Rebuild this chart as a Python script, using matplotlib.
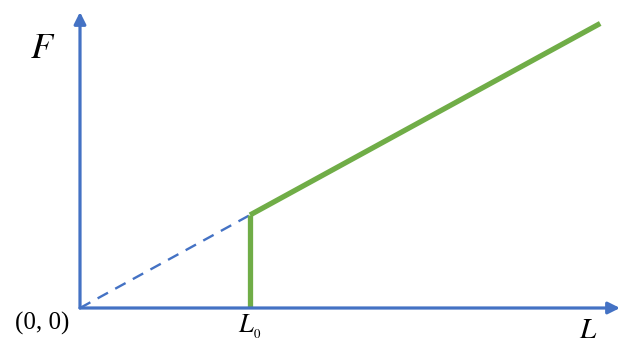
import matplotlib.pyplot as plt

plt.rcParams['mathtext.fontset'] = 'stix'

# Data: linear force F = k*L, starts at L0
L0 = 1.0
L_end = 3.06
k = 0.547
L_line = [L0, L_end]
F_line = [k * L0, k * L_end]
L_dash = [0, L0]
F_dash = [0, k * L0]

blue = '#4472C4'
green = '#70AD47'

fig = plt.figure(figsize=(6.21, 3.49), dpi=100)
ax = fig.add_axes([0, 0, 1, 1])
ax.set_xlim(-80 / 170, 541 / 170)
ax.set_ylim(-41 / 170, 308 / 170)
ax.axis('off')

# axes with arrows
arrow = dict(arrowstyle='-|>,head_length=0.7,head_width=0.35', color=blue, lw=2.3,
             shrinkA=0, shrinkB=0)
ax.annotate('', xy=(540 / 170, 0), xytext=(0, 0), arrowprops=arrow)
ax.annotate('', xy=(0, 296 / 170), xytext=(0, 0), arrowprops=arrow)

# dashed extrapolation and force curve
ax.plot(L_dash, F_dash, color=blue, lw=1.7, ls=(0, (5, 3.5)))
ax.plot(L_line, F_line, color=green, lw=3.8, solid_capstyle='butt')
ax.plot([L0, L0], [0, k * L0], color=green, lw=3.8, solid_capstyle='butt')

ax.text(-0.22, 1.53, '$F$', fontsize=26, ha='center', va='center')
ax.text(2.99, -0.13, '$L$', fontsize=21, ha='center', va='center')
ax.text(L0, -0.11, '$L_{_0}$', fontsize=19, ha='center', va='center')
ax.text(-0.225, -0.09, '(0, 0)', fontsize=18, ha='center', va='center', family='Liberation Serif')

fig.savefig('out.png', dpi=100)
